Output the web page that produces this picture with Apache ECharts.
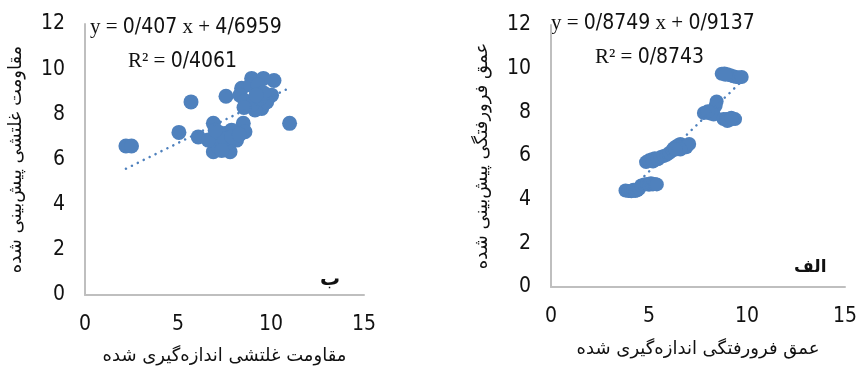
<!DOCTYPE html>
<html>
<head>
<meta charset="utf-8">
<script src="https://cdn.jsdelivr.net/npm/echarts@6/dist/echarts.min.js"></script>
<style>
html,body{margin:0;padding:0;background:#fff;}
#chart{width:858px;height:367px;}
</style>
</head>
<body>
<div id="chart"></div>
<script>
// Left chart (ب): measured vs predicted shear strength
var leftMeasured  = [2.2, 2.5, 5.05, 5.7, 6.09, 7.58, 11.0, 10.16, 8.96, 9.59, 8.42, 8.33, 8.78, 9.5, 10.03, 9.23, 9.77, 9.14, 8.6, 9.0, 9.4, 8.9, 9.3, 9.6, 8.55, 9.2, 6.9, 6.9, 7.8, 8.51, 8.6, 8.15, 6.9, 7.53, 7.7, 7.17, 7.88, 6.63, 7.2, 7.5, 7.0, 7.35, 7.9, 8.3];
var leftPredicted = [6.6, 6.6, 7.2, 8.55, 7.0, 8.8, 7.6, 9.5, 9.59, 9.59, 9.15, 8.85, 8.4, 8.26, 8.85, 9.07, 8.55, 8.19, 8.6, 8.45, 8.7, 9.3, 9.3, 8.95, 8.3, 8.85, 7.6, 6.34, 6.34, 7.6, 7.23, 6.86, 6.93, 7.15, 6.78, 6.56, 7.3, 6.86, 7.2, 6.9, 7.3, 6.4, 7.0, 7.1];
var leftTrend = {slope: 0.407, intercept: 4.6959, xRange: [2.2, 11.0]};
var leftEq = ['y = ', '0/407', ' x + ', '4/6959'];
var leftR2 = ['R² = ', '0/4061'];

// Right chart (الف): measured vs predicted indentation depth
var rightMeasured  = [3.8, 3.95, 4.1, 4.2, 4.3, 4.4, 4.5, 4.6, 4.75, 4.9, 5.0, 5.1, 5.2, 5.3, 5.4, 4.85, 5.0, 5.15, 5.3, 5.2, 5.45, 5.6, 5.75, 5.9, 6.05, 6.2, 6.25, 6.4, 6.5, 6.6, 6.7, 6.8, 6.9, 7.05, 6.6, 6.35, 7.8, 7.95, 8.1, 8.25, 8.4, 8.45, 8.3, 8.0, 8.8, 8.95, 9.1, 9.25, 9.39, 9.0, 9.2, 8.71, 8.85, 9.0, 9.15, 9.3, 9.45, 9.6, 9.73, 8.9];
var rightPredicted = [4.42, 4.4, 4.38, 4.45, 4.4, 4.43, 4.5, 4.65, 4.7, 4.72, 4.68, 4.75, 4.7, 4.72, 4.7, 5.72, 5.8, 5.85, 5.9, 5.75, 5.85, 5.95, 6.0, 6.05, 6.15, 6.25, 6.35, 6.45, 6.5, 6.55, 6.5, 6.45, 6.4, 6.55, 6.3, 6.3, 7.97, 8.0, 7.95, 8.1, 8.3, 8.5, 7.9, 8.05, 7.69, 7.7, 7.65, 7.7, 7.69, 7.6, 7.75, 9.77, 9.78, 9.75, 9.7, 9.65, 9.62, 9.6, 9.62, 9.72];
var rightTrend = {slope: 0.8749, intercept: 0.9137, xRange: [3.8, 9.73]};
var rightEq = ['y = ', '0/8749', ' x + ', '0/9137'];
var rightR2 = ['R² = ', '0/8743'];

var xTicks = [0, 5, 10, 15];
var yTicks = [0, 2, 4, 6, 8, 10, 12];

var leftXTitle = 'مقاومت غلتشی اندازه‌گیری شده';
var leftYTitle = 'مقاومت غلتشی پیش‌بینی شده';
var rightXTitle = 'عمق فرورفتگی اندازه‌گیری شده';
var rightYTitle = 'عمق فرورفتگی پیش‌بینی شده';
var leftTag = 'ب';
var rightTag = 'الف';

function pairs(a, b) { return a.map(function (v, i) { return [v, b[i]]; }); }
function trendPts(t) { return t.xRange.map(function (x) { return [x, t.slope * x + t.intercept]; }); }

var NARROW = '"DejaVu Sans Condensed", "Liberation Sans Narrow", "Liberation Sans", sans-serif';
var SERIF = '"Liberation Serif", "Times New Roman", serif';
var FA = '"DejaVu Sans", "Noto Sans", sans-serif';
var BLUE = '#4f81bd';
var AXIS = '#bfbfbf';

function xAxisCfg(gi, name, gap) {
  return {
    gridIndex: gi, type: 'value', min: xTicks[0], max: xTicks[xTicks.length - 1], interval: 5,
    axisLine: {show: true, lineStyle: {color: AXIS, width: 2}},
    axisTick: {show: false}, splitLine: {show: false},
    axisLabel: {fontFamily: NARROW, fontSize: 21, color: '#111', margin: 19},
    name: name, nameLocation: 'middle', nameGap: gap,
    nameTextStyle: {fontFamily: FA, fontSize: 18, color: '#111'}
  };
}
function yAxisCfg(gi, name, gap) {
  return {
    gridIndex: gi, type: 'value', min: yTicks[0], max: yTicks[yTicks.length - 1], interval: 2,
    axisLine: {show: true, lineStyle: {color: AXIS, width: 2}},
    axisTick: {show: false}, splitLine: {show: false},
    axisLabel: {fontFamily: NARROW, fontSize: 21, color: '#111', margin: 20},
    name: name, nameLocation: 'middle', nameGap: gap, nameRotate: 90,
    nameTextStyle: {fontFamily: FA, fontSize: 18, color: '#111'}
  };
}
function eqText(parts, x, y) {
  var t = parts.map(function (p, i) { return '{' + (i % 2 === 0 ? 's' : 'n') + '|' + p + '}'; }).join('');
  return {
    type: 'text', left: x, top: y,
    style: {
      text: t, fill: '#111',
      rich: {
        s: {fontFamily: SERIF, fontSize: 21, fill: '#111'},
        n: {fontFamily: NARROW, fontSize: 21, fill: '#111'}
      }
    }
  };
}

var chart = echarts.init(document.getElementById('chart'));
chart.setOption({
  backgroundColor: '#fff',
  animation: false,
  grid: [
    {left: 85, right: 494, top: 24, bottom: 72, containLabel: false, outerBoundsMode: 'none'},
    {left: 551, right: 13, top: 25, bottom: 80, containLabel: false, outerBoundsMode: 'none'}
  ],
  xAxis: [xAxisCfg(0, leftXTitle, 52), xAxisCfg(1, rightXTitle, 53)],
  yAxis: [yAxisCfg(0, leftYTitle, 60), yAxisCfg(1, rightYTitle, 60)],
  series: [
    {type: 'scatter', xAxisIndex: 0, yAxisIndex: 0, data: pairs(leftMeasured, leftPredicted),
     symbolSize: 15, itemStyle: {color: BLUE, opacity: 1}},
    {type: 'line', xAxisIndex: 0, yAxisIndex: 0, data: trendPts(leftTrend), symbol: 'none',
     lineStyle: {color: BLUE, width: 2.5, type: [0.1, 6.5], cap: 'round'}},
    {type: 'scatter', xAxisIndex: 1, yAxisIndex: 1, data: pairs(rightMeasured, rightPredicted),
     symbolSize: 14, itemStyle: {color: BLUE, opacity: 1}},
    {type: 'line', xAxisIndex: 1, yAxisIndex: 1, data: trendPts(rightTrend), symbol: 'none',
     lineStyle: {color: BLUE, width: 2.5, type: [0.1, 6.5], cap: 'round'}}
  ],
  graphic: [
    eqText(leftEq, 90, 17),
    eqText(leftR2, 128, 51),
    eqText(rightEq, 551, 13),
    eqText(rightR2, 595, 47),
    {type: 'text', left: 320, top: 270, style: {text: leftTag, fontFamily: FA, fontSize: 20, fontWeight: 'bold', fill: '#111'}},
    {type: 'text', left: 794, top: 259, style: {text: rightTag, fontFamily: FA, fontSize: 17, fontWeight: 'bold', fill: '#111'}}
  ]
});
</script>
</body>
</html>
